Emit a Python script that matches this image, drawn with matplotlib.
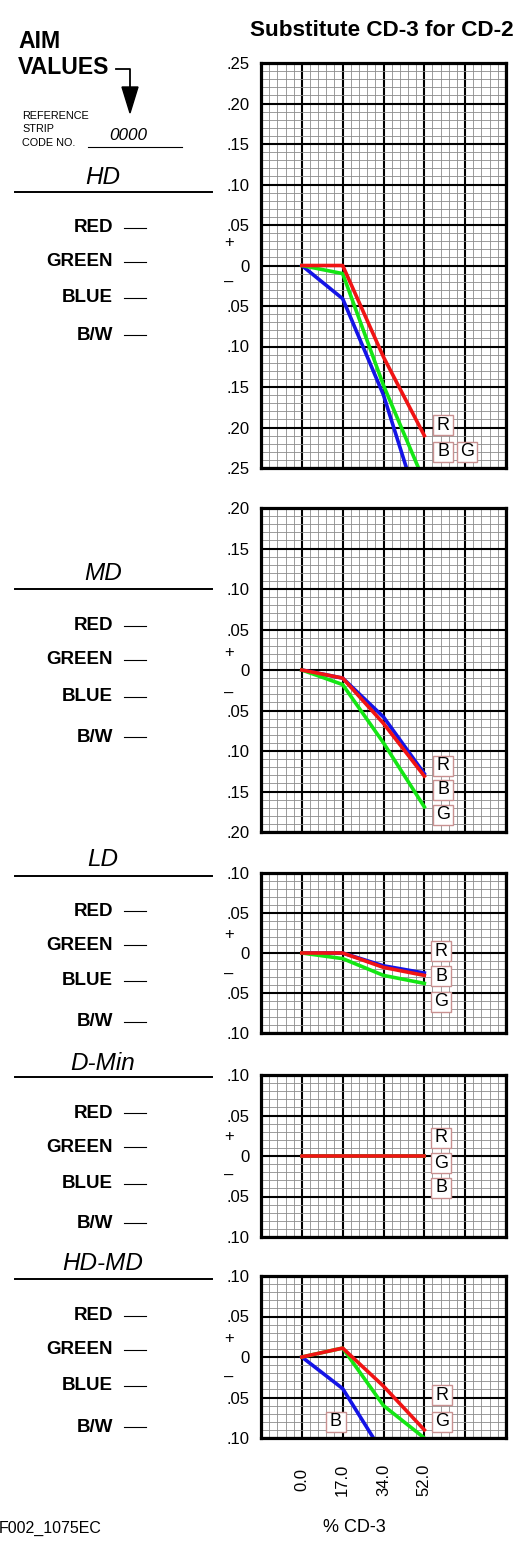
import numpy as np
import matplotlib
matplotlib.use("Agg")
import matplotlib.pyplot as plt
from matplotlib.lines import Line2D
from matplotlib.patches import Polygon

plt.rcParams['font.family'] = ['Liberation Sans', 'DejaVu Sans']

W, H = 529, 1557

# data (density change vs. % CD-3)
cd3_labels = ['0.0', '17.0', '34.0', '52.0']

hd_red = [0.0, 0.0, -0.113, -0.210]
hd_green = [0.0, -0.010, -0.148, -0.267]
hd_blue = [0.0, -0.041, -0.160, -0.320]

md_red = [0.0, -0.010, -0.066, -0.131]
md_green = [0.0, -0.018, -0.090, -0.169]
md_blue = [0.0, -0.010, -0.058, -0.128]

ld_red = [0.0, 0.0, -0.018, -0.028]
ld_green = [0.0, -0.007, -0.028, -0.038]
ld_blue = [0.0, 0.0, -0.016, -0.025]

dmin_red = [0.0, 0.0, 0.0, 0.0]
dmin_green = [0.0, 0.0, 0.0, 0.0]
dmin_blue = [0.0, 0.0, 0.0, 0.0]

hdmd_red = [0.0, 0.011, -0.036, -0.090]
hdmd_green = [0.0, 0.011, -0.060, -0.100]
hdmd_blue = [0.0, -0.039, -0.120, -0.200]

panel_names = ['HD', 'MD', 'LD', 'D-Min', 'HD-MD']
panel_limits = [0.25, 0.20, 0.10, 0.10, 0.10]
panel_series = [
    (hd_red, hd_green, hd_blue),
    (md_red, md_green, md_blue),
    (ld_red, ld_green, ld_blue),
    (dmin_red, dmin_green, dmin_blue),
    (hdmd_red, hdmd_green, hdmd_blue),
]
channel_names = ['RED', 'GREEN', 'BLUE', 'B/W']

# layout (pixels from top-left)
ax_left, ax_right = 261, 506
panel_box = [(63, 468), (508, 832), (873, 1033), (1075, 1237), (1276, 1438)]
title_y = [177, 573, 859, 1063, 1263]
divider_y = [192, 589, 876, 1077, 1279]
channel_y = [
    [228, 262, 298, 335],
    [626, 660, 697, 737],
    [911, 945, 981, 1022],
    [1113, 1147, 1184, 1223],
    [1316, 1350, 1386, 1427],
]
sign_y = [(242, 282), (652, 693), (935, 974), (1136, 1175), (1338, 1377)]
# letter tags: (letter, x index, y value)
tags = [
    [('R', 3.46, -0.197), ('B', 3.46, -0.230), ('G', 4.05, -0.230)],
    [('R', 3.46, -0.118), ('B', 3.46, -0.148), ('G', 3.46, -0.179)],
    [('R', 3.42, 0.0025), ('B', 3.42, -0.029), ('G', 3.42, -0.061)],
    [('R', 3.42, 0.0225), ('G', 3.42, -0.009), ('B', 3.42, -0.039)],
    [('R', 3.44, -0.047), ('G', 3.44, -0.080), ('B', 0.83, -0.080)],
]

line_colors = {'red': '#f01414', 'green': '#14e614', 'blue': '#1414e6'}


def fx(x):
    return x / W


def fy(y):
    return 1 - y / H


fig = plt.figure(figsize=(W / 100, H / 100), dpi=100)

fig.text(fx(382), fy(31), 'Substitute CD-3 for CD-2', ha='center', va='center',
         fontsize=16.2, fontweight='bold')

# header block
fig.text(fx(18), fy(41), 'AIM', ha='left', va='center', fontsize=16.6, fontweight='bold')
fig.text(fx(18), fy(67), 'VALUES', ha='left', va='center', fontsize=16.6, fontweight='bold')
fig.add_artist(Line2D([fx(116), fx(130), fx(130)], [fy(69), fy(69), fy(90)],
                      color='black', lw=1.3, transform=fig.transFigure))
fig.add_artist(Polygon([[fx(122), fy(87)], [fx(138), fy(87)], [fx(130), fy(113)]],
                       closed=True, color='black', transform=fig.transFigure))
for txt, yy in zip(['REFERENCE', 'STRIP', 'CODE NO.'], [116, 129, 143]):
    fig.text(fx(22), fy(yy), txt, ha='left', va='center', fontsize=7.8)
fig.text(fx(128), fy(135), '0000', ha='center', va='center', fontsize=12.3, style='italic')
fig.add_artist(Line2D([fx(88), fx(182)], [fy(147), fy(147)], color='black', lw=0.8,
                      transform=fig.transFigure))

x_pos = np.arange(len(cd3_labels))

for i, name in enumerate(panel_names):
    top, bottom = panel_box[i]
    lim = panel_limits[i]
    ax = fig.add_axes([fx(ax_left), fy(bottom), (ax_right - ax_left) / W, (bottom - top) / H])
    ax.set_xlim(-1, 5)
    ax.set_ylim(-lim, lim)
    ax.set_xticks(np.arange(-1, 6, 1))
    ax.set_xticks(np.arange(-1, 5.01, 0.2), minor=True)
    yt = np.round(np.arange(-lim, lim + 0.001, 0.05), 2)
    ax.set_yticks(yt, labels=['0' if v == 0 else ('%.2f' % abs(v))[1:] for v in yt])
    ax.set_yticks(np.arange(-lim, lim + 0.0001, 0.01), minor=True)
    ax.set_xticklabels([])
    ax.tick_params(which='both', length=0)
    ax.tick_params(axis='y', labelsize=12, pad=8)
    ax.grid(which='minor', color='#8c8c8c', lw=0.6)
    ax.grid(which='major', color='black', lw=1.5)
    ax.set_axisbelow(True)
    for sp in ax.spines.values():
        sp.set_linewidth(2.3)

    red, green, blue = panel_series[i]
    ax.plot(x_pos, blue, color=line_colors['blue'], lw=2.6)
    ax.plot(x_pos, green, color=line_colors['green'], lw=2.6)
    ax.plot(x_pos, red, color=line_colors['red'], lw=2.6)

    for letter, tx, ty in tags[i]:
        ax.plot(tx, ty, marker='s', markersize=14.5, mfc='white', mec='#c89090', mew=1,
                zorder=5, clip_on=False)
        ax.text(tx, ty, letter, ha='center', va='center', fontsize=13, zorder=6)

    # sign markers beside the zero line
    fig.text(fx(229), fy(sign_y[i][0]), '+', ha='center', va='center', fontsize=12)
    fig.text(fx(229), fy(sign_y[i][1]), '\u2013', ha='center', va='center', fontsize=12)

    # left side labels
    fig.text(fx(103), fy(title_y[i]), name, ha='center', va='center', fontsize=17.5,
             style='italic')
    fig.add_artist(Line2D([fx(15), fx(212)], [fy(divider_y[i]), fy(divider_y[i])],
                          color='black', lw=1.4, transform=fig.transFigure))
    for ch, yy in zip(channel_names, channel_y[i]):
        fig.text(fx(113), fy(yy), ch, ha='right', va='center', fontsize=13.5,
                 fontweight='bold')
        fig.add_artist(Line2D([fx(124), fx(146)], [fy(yy), fy(yy)], color='black',
                              lw=0.8, transform=fig.transFigure))

    if i == len(panel_names) - 1:
        for k, lab in enumerate(cd3_labels):
            ax.annotate(lab, xy=(x_pos[k], -lim), xytext=(0, -30), textcoords='offset points',
                        rotation=90, ha='center', va='center', fontsize=12,
                        annotation_clip=False)

fig.text(fx(354), fy(1527), '% CD-3', ha='center', va='center', fontsize=13)
fig.text(fx(-1), fy(1528), 'F002_1075EC', ha='left', va='center', fontsize=11.5)

fig.savefig('out.png', dpi=100)
